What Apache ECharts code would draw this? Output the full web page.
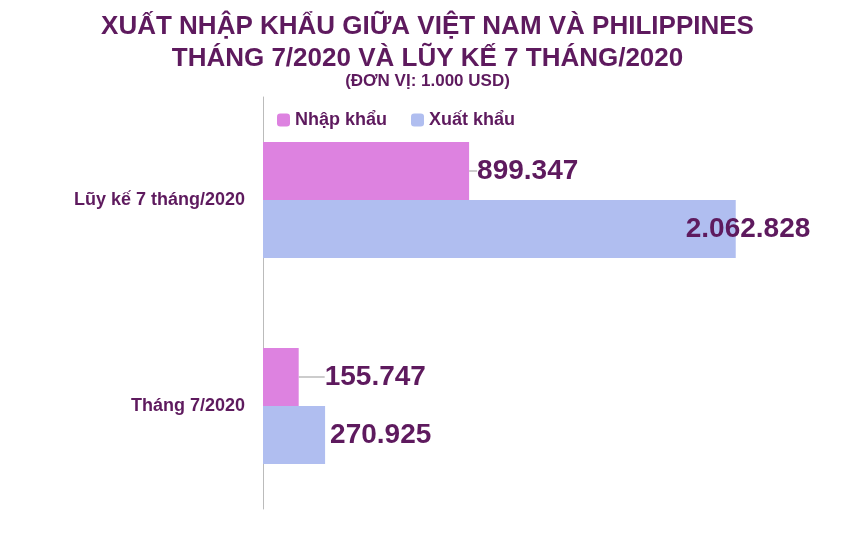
<!DOCTYPE html><html><head><meta charset="utf-8"><script src="https://cdn.jsdelivr.net/npm/echarts@6/dist/echarts.min.js"></script></head><body style="margin:0"><div id="c" style="width:855px;height:560px"></div><script>
const categories=['Tháng 7/2020','Lũy kế 7 tháng/2020'];
const nhapKhau=[155747,899347];
const xuatKhau=[270925,2062828];
const fmt=v=>String(v).replace(/\B(?=(\d{3})+(?!\d))/g,'.');
const C='#5e1a5e';
const lab={show:true,position:'right',color:C,fontSize:28,fontWeight:'bold',fontFamily:'Liberation Sans',formatter:p=>fmt(p.value)};
echarts.init(document.getElementById('c')).setOption({
title:[{text:'XUẤT NHẬP KHẨU GIỮA VIỆT NAM VÀ PHILIPPINES\nTHÁNG 7/2020 VÀ LŨY KẾ 7 THÁNG/2020',left:'center',top:6,textStyle:{color:C,fontSize:26,fontWeight:'bold',lineHeight:32,fontFamily:'Liberation Sans'}},
{text:'(ĐƠN VỊ: 1.000 USD)',left:'center',top:68,textStyle:{color:C,fontSize:17,fontWeight:'bold',fontFamily:'Liberation Sans'}}],
legend:{left:272,top:106,itemWidth:13,itemHeight:13,itemGap:24,textStyle:{color:C,fontSize:18,fontWeight:'bold',fontFamily:'Liberation Sans'},data:['Nhập khẩu','Xuất khẩu']},
grid:{left:263,right:42,top:97,bottom:51},
xAxis:{type:'value',min:0,max:2400000,show:false},
yAxis:{type:'category',data:categories,axisTick:{show:false},axisLine:{lineStyle:{color:'#bbb'}},axisLabel:{color:C,fontSize:18,fontWeight:'bold',margin:18,fontFamily:'Liberation Sans'}},
series:[
{name:'Nhập khẩu',type:'bar',data:nhapKhau,barWidth:58,barGap:'0%',itemStyle:{color:'#dd82e0'},label:Object.assign({},lab,{distance:8}),labelLine:{show:true,lineStyle:{color:'#999'}},labelLayout:p=>p.dataIndex===0?{dx:18}:{}},
{name:'Xuất khẩu',type:'bar',data:xuatKhau,barWidth:58,barGap:'0%',itemStyle:{color:'#b0bef0'},label:Object.assign({},lab),labelLayout:p=>p.dataIndex===1?{dx:-55}:{}}
]});
</script></body></html>
